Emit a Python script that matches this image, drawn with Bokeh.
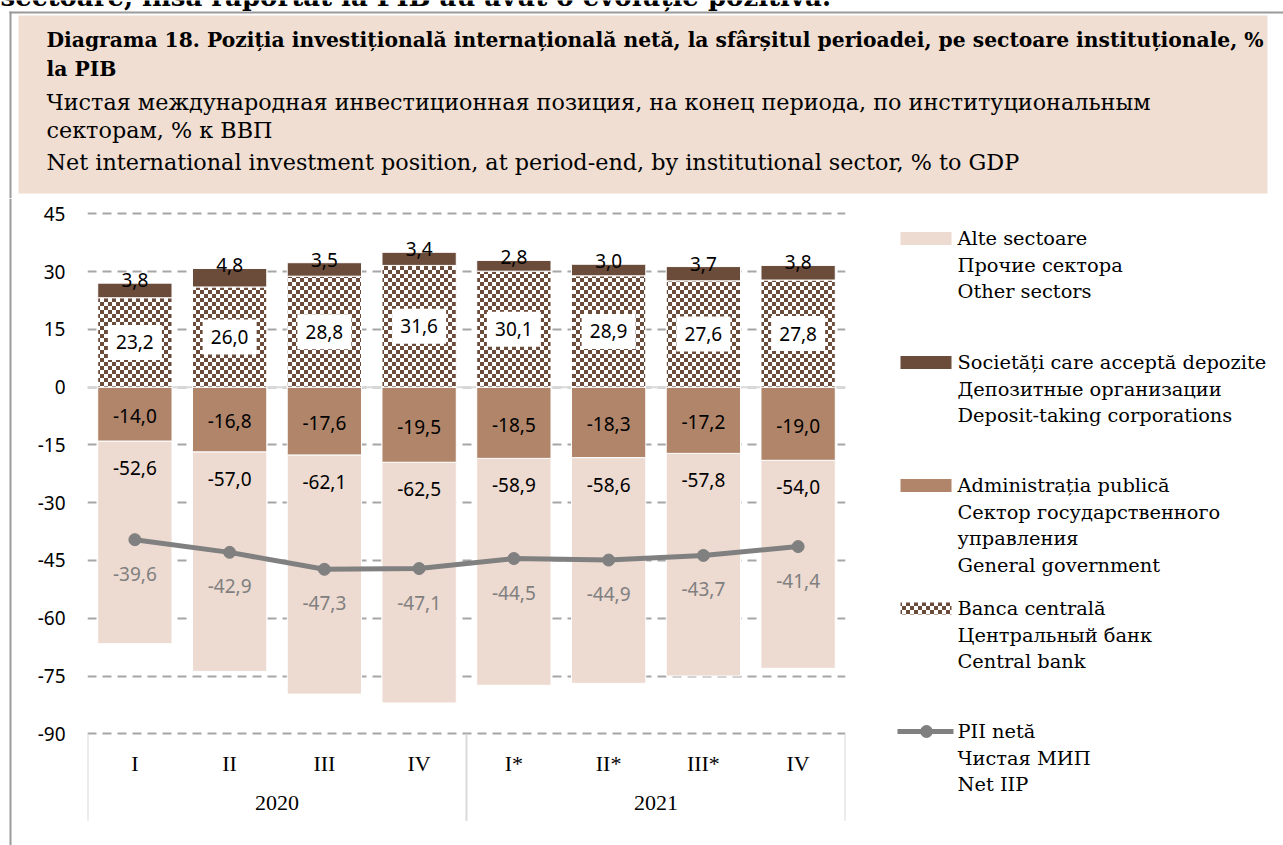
import base64
import struct
import zlib

from bokeh.core.properties import value
from bokeh.embed import file_html
from bokeh.layouts import column, row
from bokeh.models import (ColumnDataSource, CustomJSTickFormatter, FactorRange, FixedTicker,
                          ImageURLTexture, Range1d, Span)
from bokeh.plotting import figure
from bokeh.resources import INLINE

# ---------------- data ----------------
years = ["2020", "2021"]
quarters = ["I", "II", "III", "IV", "I*", "II*", "III*", "IV"]
quarter_year = ["2020", "2020", "2020", "2020", "2021", "2021", "2021", "2021"]
other_sectors = [-52.6, -57.0, -62.1, -62.5, -58.9, -58.6, -57.8, -54.0]
deposit_taking = [3.8, 4.8, 3.5, 3.4, 2.8, 3.0, 3.7, 3.8]
general_gov = [-14.0, -16.8, -17.6, -19.5, -18.5, -18.3, -17.2, -19.0]
central_bank = [23.2, 26.0, 28.8, 31.6, 30.1, 28.9, 27.6, 27.8]
net_iip = [-39.6, -42.9, -47.3, -47.1, -44.5, -44.9, -43.7, -41.4]
y_ticks = [45, 30, 15, 0, -15, -30, -45, -60, -75, -90]

top_text = "sectoare, insă raportat la PIB au avut o evoluție pozitivă."
title_lines = [
    "Diagrama 18. Poziția investițională internațională netă, la sfârșitul perioadei, pe sectoare instituționale, %",
    "la PIB",
    "Чистая международная инвестиционная позиция, на конец периода, по институциональным",
    "секторам, % к ВВП",
    "Net international investment position, at period-end, by institutional sector, % to GDP",
]
legend_labels = [
    ["Alte sectoare", "Прочие сектора", "Other sectors"],
    ["Societăți care acceptă depozite", "Депозитные организации", "Deposit-taking corporations"],
    ["Administrația publică", "Сектор государственного", "управления", "General government"],
    ["Banca centrală", "Центральный банк", "Central bank"],
    ["PII netă", "Чистая МИП", "Net IIP"],
]

# ---------------- styles ----------------
C_OTHER = "#EDDAD0"
C_DEP = "#6B4C3B"
C_GOV = "#B0856A"
C_NET = "#808080"
C_HEADER = "#EFDED1"
C_BORDER = "#9A9A9A"
SERIF = "DejaVu Serif"
SANS = "Noto Sans"


def checker_url(c1, c2, cell=4):
    n = cell * 2
    raw = b""
    for yy in range(n):
        line = bytearray([0])
        for xx in range(n):
            c = c1 if ((xx // cell + yy // cell) % 2 == 0) else c2
            line += bytes(c)
        raw += bytes(line)

    def chunk(tag, data):
        return (struct.pack(">I", len(data)) + tag + data
                + struct.pack(">I", zlib.crc32(tag + data) & 0xFFFFFFFF))

    png = (b"\x89PNG\r\n\x1a\n"
           + chunk(b"IHDR", struct.pack(">IIBBBBB", n, n, 8, 2, 0, 0, 0))
           + chunk(b"IDAT", zlib.compress(raw))
           + chunk(b"IEND", b""))
    return "data:image/png;base64," + base64.b64encode(png).decode()


CHECKER = checker_url((0x6B, 0x4C, 0x3B), (255, 255, 255))


def fmt(v):
    return f"{v:.1f}".replace(".", ",")


PAGE_W, PAGE_H = 1283, 845
HH = 198          # header height
LEFT_W = 12       # left strip width
CHART_W = 866
BODY_H = PAGE_H - HH

# ---------------- main chart ----------------
factors = list(zip(quarter_year, quarters))
pos_top = [c + d for c, d in zip(central_bank, deposit_taking)]
neg_bot = [g + o for g, o in zip(general_gov, other_sectors)]

src = ColumnDataSource(data=dict(
    x=factors,
    cb=central_bank,
    cb_mid=[c / 2 for c in central_bank],
    pos_top=pos_top,
    gov=general_gov,
    gov_mid=[g / 2 for g in general_gov],
    neg_bot=neg_bot,
    net=net_iip,
    lbl_cb=[fmt(v) for v in central_bank],
    lbl_dep=[fmt(v) for v in deposit_taking],
    lbl_gov=[fmt(v) for v in general_gov],
    lbl_oth=[fmt(v) for v in other_sectors],
    lbl_net=[fmt(v) for v in net_iip],
))

x_range = FactorRange(*factors, factor_padding=0, group_padding=0,
                      subgroup_padding=0, range_padding=0)
y_range = Range1d(-119.0, 48.97)

p = figure(width=CHART_W, height=BODY_H, x_range=x_range, y_range=y_range,
           output_backend="svg", toolbar_location=None, title=None,
           min_border_left=75, min_border_right=33, min_border_top=0,
           min_border_bottom=0)
p.outline_line_color = None
p.background_fill_color = "white"

# grid
p.xgrid.grid_line_color = None
p.ygrid.ticker = FixedTicker(ticks=y_ticks)
p.ygrid.grid_line_color = "#A6A6A6"
p.ygrid.grid_line_width = 2
p.ygrid.grid_line_dash = "9 6"
p.add_layout(Span(location=0, dimension="width", line_color="#D9D9D9",
                  line_width=2, level="underlay"))

# y axis
p.yaxis.ticker = FixedTicker(ticks=y_ticks)
p.yaxis.formatter = CustomJSTickFormatter(code="return String(tick)")
p.yaxis.axis_line_color = None
p.yaxis.major_tick_line_color = None
p.yaxis.minor_tick_line_color = None
p.yaxis.major_tick_out = 0
p.yaxis.major_tick_in = 0
p.yaxis.major_label_standoff = 22
p.yaxis.major_label_text_font = SANS
p.yaxis.major_label_text_font_size = "19px"
p.yaxis.major_label_text_color = "#000000"

# x axis (two-level categories)
p.xaxis.fixed_location = min(y_ticks)
p.xaxis.axis_line_color = None
p.xaxis.major_tick_line_color = None
p.xaxis.major_tick_out = 0
p.xaxis.major_tick_in = 0
p.xaxis.major_label_standoff = 17
p.xaxis.major_label_text_font = "Liberation Serif"
p.xaxis.major_label_text_font_size = "22px"
p.xaxis.major_label_text_color = "#000000"
p.xaxis.group_text_font = "Liberation Serif"
p.xaxis.group_text_font_size = "22px"
p.xaxis.group_text_color = "#000000"
p.xaxis.group_text_font_style = "normal"
p.xaxis.separator_line_color = None

# category separators
sep_src = ColumnDataSource(data=dict(
    x=[(quarter_year[0], quarters[0], -0.5), (quarter_year[4], quarters[4], -0.5),
       (quarter_year[-1], quarters[-1], 0.5)],
    y0=[min(y_ticks)] * 3,
    y1=[min(y_ticks) - 22.6] * 3,
))
p.segment(x0="x", y0="y0", x1="x", y1="y1", source=sep_src,
          line_color="#D9D9D9", line_width=2)

BW = 0.784
# bars
p.vbar(x="x", bottom="gov", top="neg_bot", width=BW, source=src,
       fill_color=C_OTHER, line_color="white", line_width=1)
p.vbar(x="x", bottom=0, top="gov", width=BW, source=src,
       fill_color=C_GOV, line_color="white", line_width=1)
p.vbar(x="x", bottom=0, top="cb", width=BW, source=src,
       fill_color="white", line_color="white", line_width=1,
       hatch_pattern=value("checker"),
       hatch_extra={"checker": ImageURLTexture(url=CHECKER, repetition="repeat")})
p.vbar(x="x", bottom="cb", top="pos_top", width=BW, source=src,
       fill_color=C_DEP, line_color="white", line_width=1)

# net IIP line
p.line(x="x", y="net", source=src, line_color=C_NET, line_width=5)
p.scatter(x="x", y="net", source=src, size=12, fill_color=C_NET, line_color=C_NET)

# data labels
lab = dict(text_font=value(SANS), text_font_size="19px", text_align="center")
p.rect(x="x", y="cb_mid", width=54, height=35, width_units="screen",
       height_units="screen", source=src, fill_color="white", line_color=None)
p.text(x="x", y="cb_mid", text="lbl_cb", source=src, text_baseline="middle",
       text_color="black", **lab)
p.text(x="x", y="pos_top", text="lbl_dep", source=src, text_baseline="alphabetic",
       y_offset=-3, text_color="black", **lab)
p.text(x="x", y="gov_mid", text="lbl_gov", source=src, text_baseline="middle",
       y_offset=2, text_color="black", **lab)
p.text(x="x", y="gov", text="lbl_oth", source=src, text_baseline="middle",
       y_offset=27, text_color="black", **lab)
p.text(x="x", y="net", text="lbl_net", source=src, text_baseline="middle",
       y_offset=34, text_color=C_NET, **lab)

# ---------------- legend panel ----------------
LX0 = LEFT_W + CHART_W
LW = PAGE_W - LX0
lg = figure(width=LW, height=BODY_H, x_range=Range1d(LX0, PAGE_W), y_range=Range1d(PAGE_H, HH),
            output_backend="svg", toolbar_location=None, title=None,
            x_axis_type=None, y_axis_type=None, min_border=0)
lg.outline_line_color = None
lg.grid.visible = False

item_y = [238, 362, 485, 608, 731]
line_gap = 26.7
sw_left, sw_right, sw_h = 900, 951, 13
lg.quad(left=sw_left, right=sw_right, top=item_y[0] - sw_h / 2, bottom=item_y[0] + sw_h / 2,
        fill_color=C_OTHER, line_color=None)
lg.quad(left=sw_left, right=sw_right, top=item_y[1] - sw_h / 2, bottom=item_y[1] + sw_h / 2,
        fill_color=C_DEP, line_color=None)
lg.quad(left=sw_left, right=sw_right, top=item_y[2] - sw_h / 2, bottom=item_y[2] + sw_h / 2,
        fill_color=C_GOV, line_color=None)
lg.quad(left=sw_left, right=sw_right, top=item_y[3] - 6, bottom=item_y[3] + 6,
        fill_color="white", line_color=None, hatch_pattern=value("checker"),
        hatch_extra={"checker": ImageURLTexture(url=CHECKER, repetition="repeat")})
lg.line(x=[897, 953], y=[item_y[4], item_y[4]], line_color=C_NET, line_width=5)
lg.scatter(x=[926], y=[item_y[4]], size=12, fill_color=C_NET, line_color=C_NET)

lx, ly, lt = [], [], []
for y0, lines in zip(item_y, legend_labels):
    for k, t in enumerate(lines):
        lx.append(957)
        ly.append(y0 + k * line_gap)
        lt.append(t)
lg.text(x=lx, y=ly, text=lt, text_font=value(SERIF), text_font_size="19.4px",
        text_baseline="middle", text_align="left", text_color="black")

# ---------------- header ----------------
hd = figure(width=PAGE_W, height=HH, x_range=Range1d(0, PAGE_W), y_range=Range1d(HH, 0),
            output_backend="svg", toolbar_location=None, title=None,
            x_axis_type=None, y_axis_type=None, min_border=0)
hd.outline_line_color = None
hd.grid.visible = False
hd.quad(left=9, right=PAGE_W, top=11, bottom=13, fill_color=C_BORDER, line_color=None)
hd.quad(left=9, right=11, top=11, bottom=HH, fill_color=C_BORDER, line_color=None)
hd.quad(left=18, right=1267, top=15, bottom=193, fill_color=C_HEADER, line_color=None)
hd.text(x=[0], y=[-4], text=[top_text], text_font=value(SERIF), text_font_size="26px",
        text_font_style="bold", text_baseline="alphabetic", text_color="black")
ty = [39, 68, 101, 129, 161]
hd.text(x=[46, 46], y=ty[:2], text=title_lines[:2], text_font=value(SERIF),
        text_font_size="20.3px", text_font_style="bold", text_baseline="middle",
        text_color="black")
hd.text(x=[46, 46, 46], y=ty[2:], text=title_lines[2:], text_font=value(SERIF),
        text_font_size="22.3px", text_baseline="middle", text_color="black")

# ---------------- left border strip ----------------
st = figure(width=LEFT_W, height=BODY_H, x_range=Range1d(0, LEFT_W), y_range=Range1d(PAGE_H, HH),
            output_backend="svg", toolbar_location=None, title=None,
            x_axis_type=None, y_axis_type=None, min_border=0)
st.outline_line_color = None
st.grid.visible = False
st.quad(left=9, right=11, top=HH, bottom=PAGE_H, fill_color=C_BORDER, line_color=None)

layout = column(hd, row(st, p, lg))

with open("out.html", "w") as f:
    f.write(file_html(layout, INLINE))
